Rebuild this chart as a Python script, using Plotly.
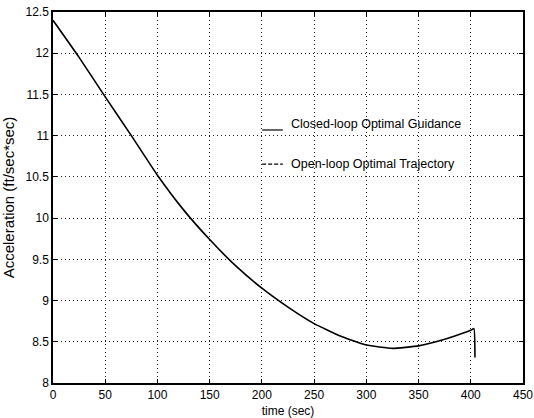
import plotly.graph_objects as go

time_s = [0, 25, 50, 75, 100, 125, 150, 175, 200, 225, 250, 275, 300, 325, 350, 375, 400, 403, 404]
accel = [12.40, 11.95, 11.47, 11.00, 10.52, 10.10, 9.74, 9.42, 9.15, 8.92, 8.72, 8.57, 8.46, 8.42, 8.45, 8.53, 8.64, 8.66, 8.31]

x_ticks = [0, 50, 100, 150, 200, 250, 300, 350, 400, 450]
y_ticks = [8, 8.5, 9, 9.5, 10, 10.5, 11, 11.5, 12, 12.5]
y_labels = ["8", "8.5", "9", "9.5", "10", "10.5", "11", "11.5", "12", "12.5"]

legend_labels = ["Closed-loop Optimal Guidance", "Open-loop Optimal Trajectory"]

font = "Liberation Sans, Arial, sans-serif"

fig = go.Figure()
fig.add_trace(go.Scatter(x=time_s, y=accel, mode="lines",
                         line=dict(color="black", width=1.6, shape="spline", smoothing=0.4),
                         name=legend_labels[0], showlegend=False))

axis_common = dict(showline=True, linecolor="black", linewidth=1.5, mirror="ticks",
                   ticks="inside", ticklen=4, tickcolor="black", automargin=False,
                   showgrid=True, gridcolor="#222", griddash="1px,3px", gridwidth=1,
                   zeroline=False, tickfont=dict(family=font, size=12, color="black"))

fig.update_xaxes(range=[0, 450], tickvals=x_ticks,
                 title=dict(text="time (sec)", font=dict(family=font, size=12, color="black")),
                 **axis_common)
fig.update_yaxes(range=[8, 12.5], tickvals=y_ticks, ticktext=y_labels,
                 title=dict(text="Acceleration (ft/sec*sec)", font=dict(family=font, size=15, color="black")),
                 **axis_common)

# legend-like samples and labels (paper coords)
fig.add_shape(type="line", xref="paper", yref="paper", x0=0.445, x1=0.489, y0=0.682, y1=0.682,
              line=dict(color="black", width=1.2))
fig.add_annotation(xref="paper", yref="paper", x=0.502, y=0.697, text=legend_labels[0],
                   showarrow=False, xanchor="left", yanchor="middle",
                   font=dict(family=font, size=12.5, color="black"))
fig.add_shape(type="line", xref="paper", yref="paper", x0=0.445, x1=0.489, y0=0.59, y1=0.59,
              line=dict(color="black", width=1.2, dash="4px,2px"))
fig.add_annotation(xref="paper", yref="paper", x=0.502, y=0.59, text=legend_labels[1],
                   showarrow=False, xanchor="left", yanchor="middle",
                   font=dict(family=font, size=12.5, color="black"))

fig.update_layout(width=534, height=418, margin=dict(l=53, r=11, t=12, b=35),
                  paper_bgcolor="white", plot_bgcolor="white", showlegend=False)

fig.write_html("out.html", config={"displayModeBar": False},
               post_script="document.body.style.margin='0';document.body.style.overflow='hidden';")
